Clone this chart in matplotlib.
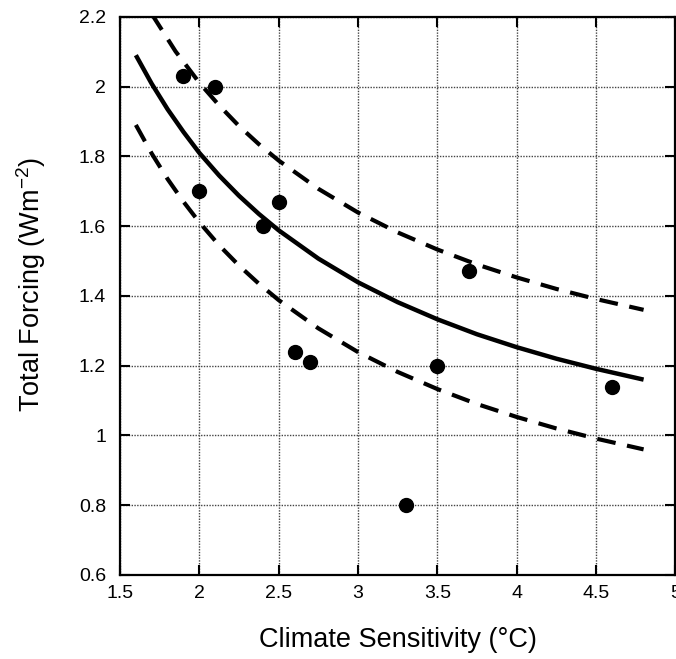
import matplotlib
matplotlib.use("Agg")
import matplotlib.pyplot as plt

plt.rcParams['font.family'] = ['Liberation Sans', 'DejaVu Sans']

# model runs (climate sensitivity vs total forcing)
sens = [1.9, 2.1, 2.0, 2.4, 2.5, 2.6, 2.7, 3.3, 3.5, 3.7, 4.6]
forcing = [2.03, 2.0, 1.70, 1.60, 1.67, 1.24, 1.21, 0.80, 1.20, 1.47, 1.14]

# best-fit curve
fit_x = [1.6, 1.7, 1.8, 1.9, 2.0, 2.125, 2.25, 2.375, 2.5, 2.75, 3.0, 3.25, 3.5, 3.75, 4.0, 4.25, 4.5, 4.8]
fit_y = [2.09, 2.008, 1.935, 1.870, 1.81, 1.745, 1.687, 1.635, 1.588, 1.507, 1.439, 1.382, 1.333, 1.290, 1.253, 1.220, 1.191, 1.160]

# upper and lower bounds
up_x = [1.7, 1.85, 2.0, 2.125, 2.25, 2.375, 2.5, 2.75, 3.0, 3.25, 3.5, 3.75, 4.0, 4.25, 4.5, 4.8]
up_y = [2.208, 2.101, 2.011, 1.946, 1.887, 1.835, 1.788, 1.707, 1.639, 1.582, 1.533, 1.490, 1.453, 1.420, 1.391, 1.360]
lo_x = [1.6, 1.7, 1.8, 1.9, 2.0, 2.125, 2.25, 2.375, 2.5, 2.75, 3.0, 3.25, 3.5, 3.75, 4.0, 4.25, 4.5, 4.8]
lo_y = [1.890, 1.808, 1.735, 1.670, 1.611, 1.545, 1.487, 1.435, 1.388, 1.307, 1.239, 1.182, 1.133, 1.090, 1.053, 1.020, 0.991, 0.960]

xticks = [1.5, 2, 2.5, 3, 3.5, 4, 4.5, 5]
xtick_labels = ['1.5', '2', '2.5', '3', '3.5', '4', '4.5', '5']
yticks = [0.6, 0.8, 1.0, 1.2, 1.4, 1.6, 1.8, 2.0, 2.2]
ytick_labels = ['0.6', '0.8', '1', '1.2', '1.4', '1.6', '1.8', '2', '2.2']

fig = plt.figure(figsize=(6.76, 6.59), dpi=100)
ax = fig.add_axes([0.1775, 0.1275, 0.8215, 0.847])

ax.plot(fit_x, fit_y, color='black', lw=3.2, solid_capstyle='butt', zorder=3)
ax.plot(up_x, up_y, color='black', lw=3.0, dashes=(4.5, 2.8), zorder=3)
ax.plot(lo_x, lo_y, color='black', lw=3.0, dashes=(4.5, 2.8), zorder=3)
ax.plot(sens, forcing, 'o', color='black', markersize=10, zorder=4, clip_on=False)

ax.set_xlim(1.5, 5)
ax.set_ylim(0.6, 2.2)
ax.set_xticks(xticks)
ax.set_xticklabels(xtick_labels)
ax.set_yticks(yticks)
ax.set_yticklabels(ytick_labels)
ax.grid(True, color='#444444', linestyle=(0, (1, 1)), linewidth=1.0)
ax.tick_params(direction='in', length=7, width=1.5, labelsize=14,
               top=True, right=True)
ax.tick_params(axis='x', pad=7)
ax.tick_params(axis='y', pad=10)
for s in ax.spines.values():
    s.set_linewidth(1.6)

ax.set_xlabel('Climate Sensitivity (°C)', fontsize=19.5, labelpad=18)
ax.set_ylabel('Total Forcing (Wm$^{\\mathregular{-2}}$)', fontsize=19.5)
ax.yaxis.set_label_coords(-0.13, 0.52)

fig.savefig('out.png', dpi=100)
